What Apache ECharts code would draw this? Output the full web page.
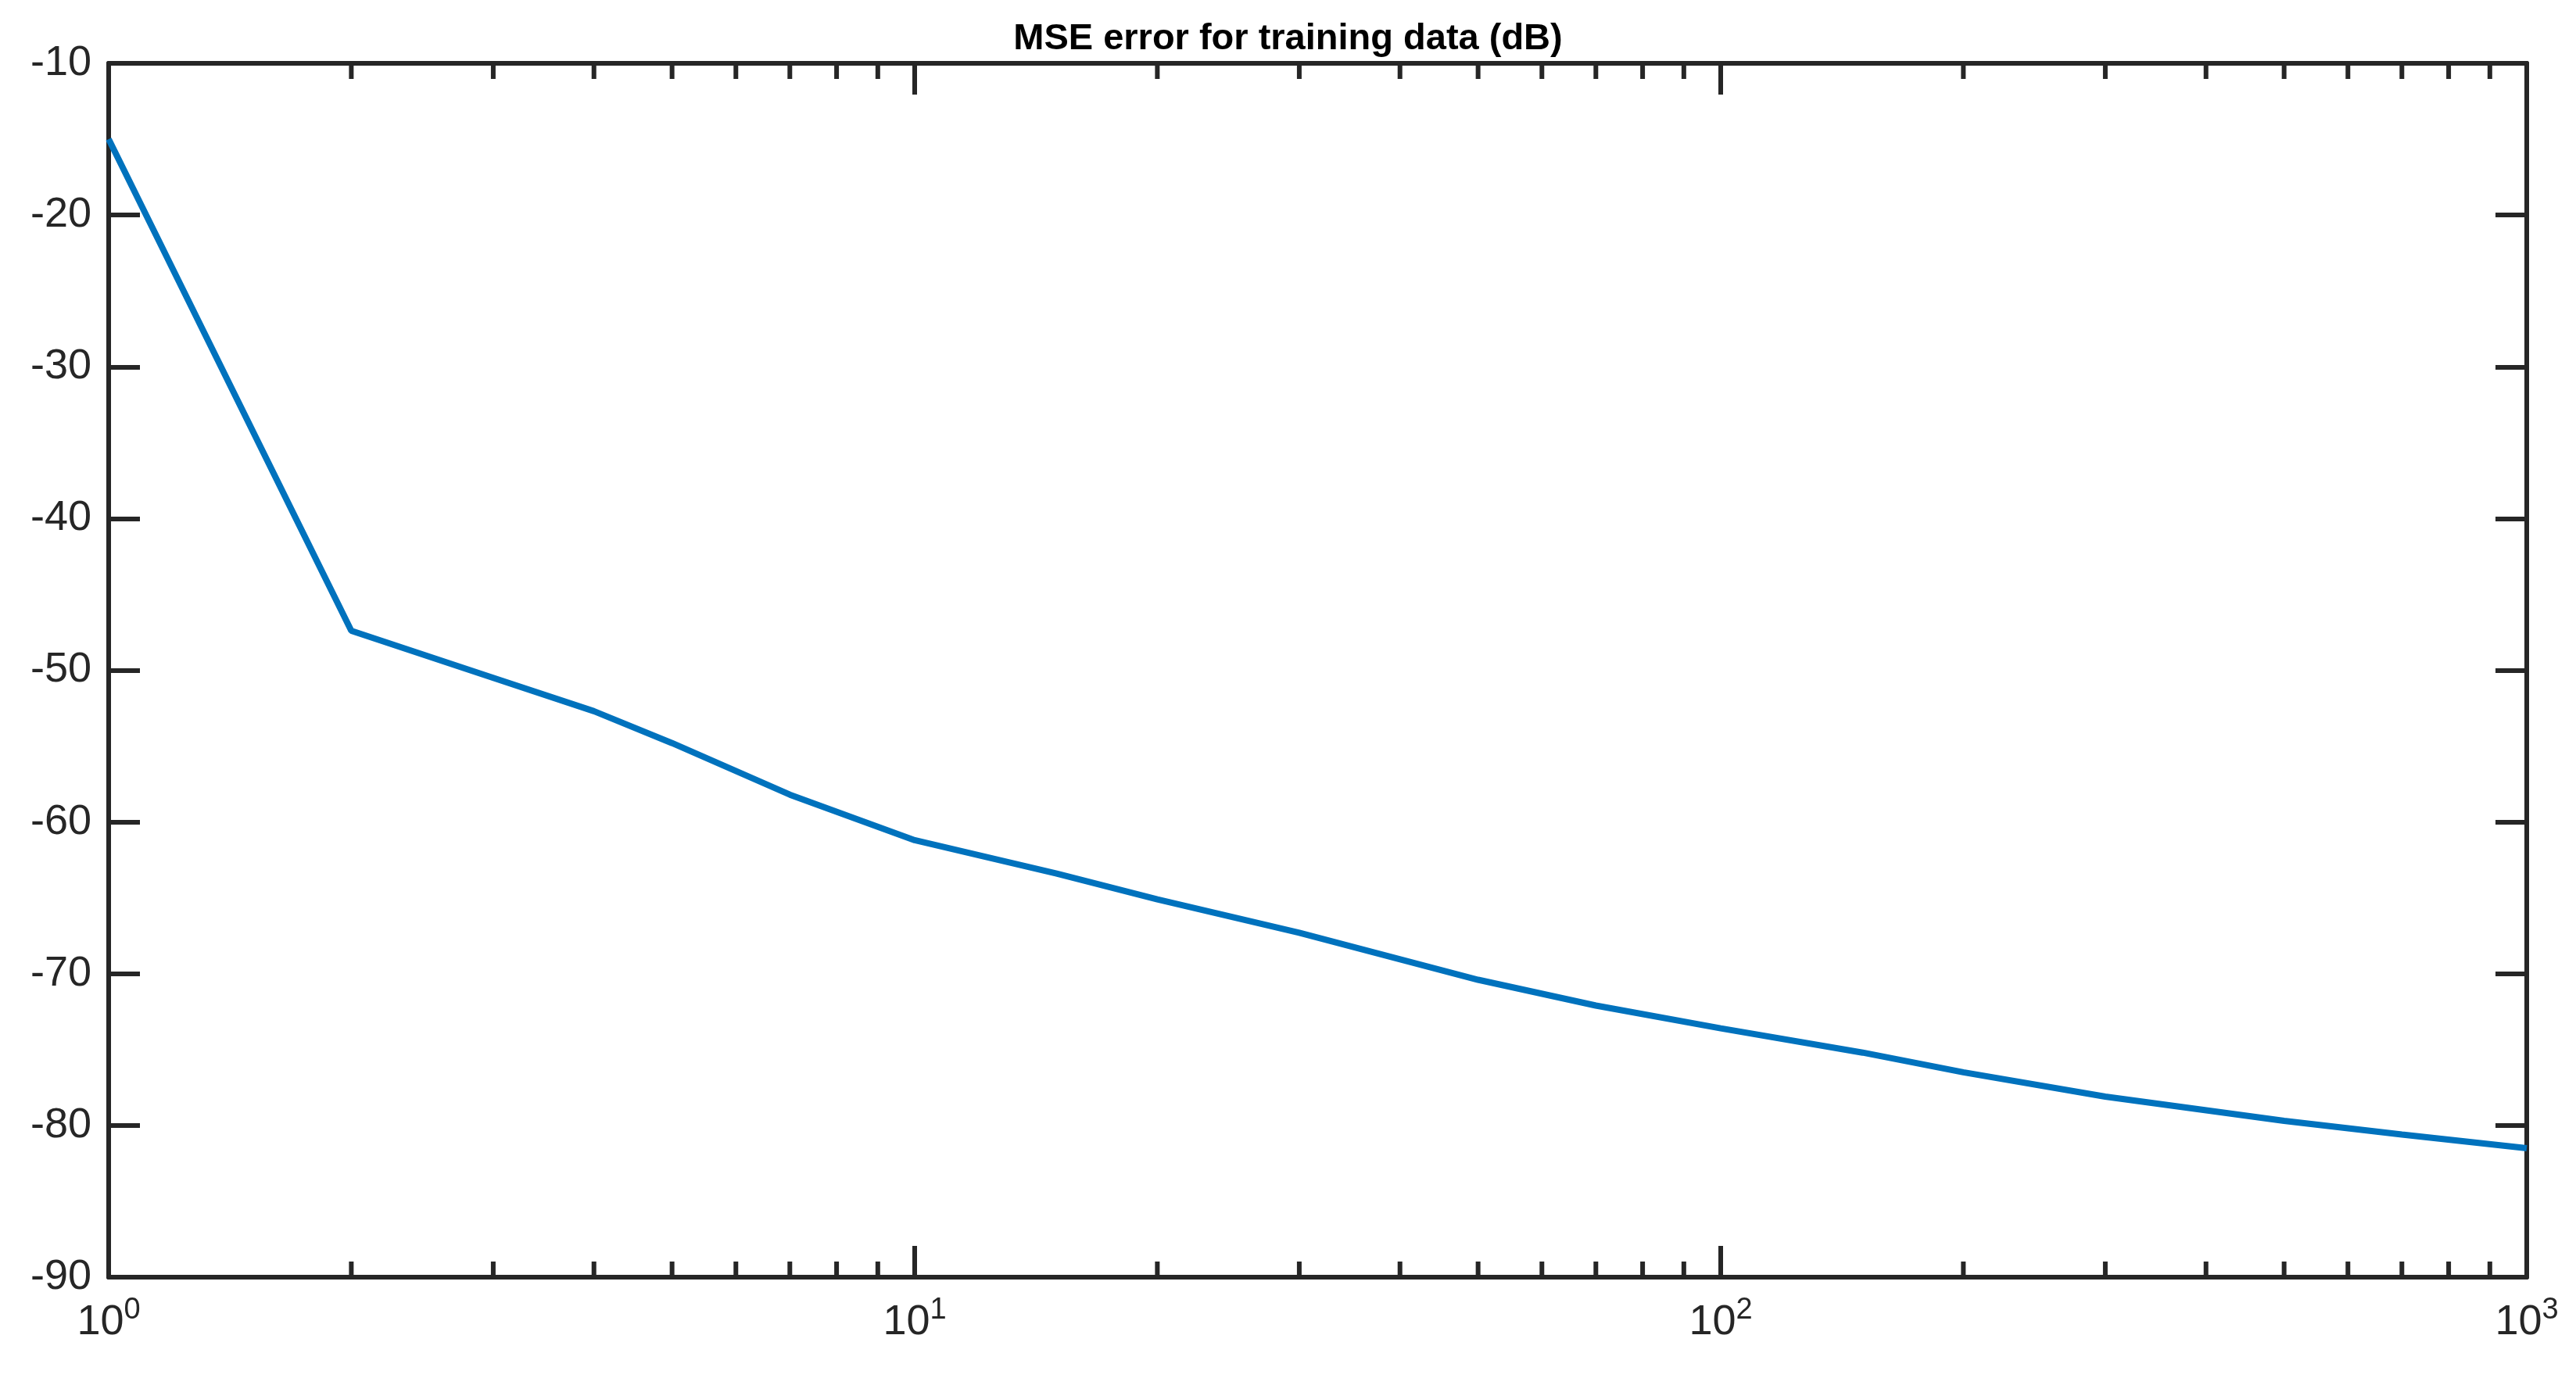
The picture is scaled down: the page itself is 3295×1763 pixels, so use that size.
<!DOCTYPE html>
<html><head><meta charset="utf-8">
<script src="https://cdn.jsdelivr.net/npm/echarts@6/dist/echarts.min.js"></script>
<style>html,body{margin:0;padding:0;background:#fff}#c{width:3295px;height:1763px}</style>
</head><body><div id="c"></div>
<script>
const xValues = [1, 2, 3, 4, 5, 7, 10, 15, 20, 30, 50, 70, 100, 150, 200, 300, 500, 700, 1000];
const mseDb = [-15.0, -47.4, -50.5, -52.7, -54.8, -58.2, -61.2, -63.4, -65.1, -67.3, -70.4, -72.1, -73.6, -75.2, -76.5, -78.1, -79.7, -80.6, -81.5];
const yTicks = [-90, -80, -70, -60, -50, -40, -30, -20, -10];
const minorTickX = [];
for (let e = 0; e < 3; e++) for (let m = 2; m <= 9; m++) minorTickX.push(m * Math.pow(10, e));

const font = 'Liberation Sans, Arial, sans-serif';
const axisCol = '#262626';
const chart = echarts.init(document.getElementById('c'), null, {renderer: 'canvas'});
const supFmt = v => { const e = Math.round(Math.log10(v)); return '{b|10}{s|' + e + '}'; };
const tick = {show: true, inside: true, length: 40, lineStyle: {color: axisCol, width: 6}};
const line = {show: true, lineStyle: {color: axisCol, width: 6}};
chart.setOption({
  animation: false,
  title: {text: 'MSE error for training data (dB)', left: 'center', top: 22,
    textStyle: {fontFamily: font, fontWeight: 'bold', fontSize: 47, color: '#000'}},
  grid: {left: 139, right: 63, top: 81, bottom: 129},
  xAxis: [
    {type: 'log', logBase: 10, min: 1, max: 1000, position: 'bottom',
     axisLine: line, axisTick: tick, splitLine: {show: false},
     axisLabel: {margin: 24, formatter: supFmt, rich: {
       b: {fontFamily: font, fontSize: 54, color: '#262626'},
       s: {fontFamily: font, fontSize: 38, color: '#262626', verticalAlign: 'top', padding: [0,0,30,0]}}}},
    {type: 'log', logBase: 10, min: 1, max: 1000, position: 'top',
     axisLine: line, axisTick: tick, axisLabel: {show: false}, splitLine: {show: false}}
  ],
  yAxis: [
    {type: 'value', min: -90, max: -10, interval: 10, position: 'left',
     axisLine: line, axisTick: tick, splitLine: {show: false},
     axisLabel: {margin: 22, fontFamily: font, fontSize: 54, color: '#262626'}},
    {type: 'value', min: -90, max: -10, interval: 10, position: 'right',
     axisLine: line, axisTick: tick, axisLabel: {show: false}, splitLine: {show: false}}
  ],
  series: [
    {type: 'line', data: xValues.map((x, i) => [x, mseDb[i]]), showSymbol: false,
     lineStyle: {color: '#0072BD', width: 8}, z: 5},
    {type: 'custom', data: minorTickX.map(x => [x]), silent: true, z: 4,
     renderItem: (params, api) => {
       const x = api.value(0);
       const b = api.coord([x, -90]);
       const t = api.coord([x, -10]);
       return {type: 'group', children: [
         {type: 'line', shape: {x1: b[0], y1: b[1], x2: b[0], y2: b[1] - 20}, style: {stroke: axisCol, lineWidth: 6}},
         {type: 'line', shape: {x1: t[0], y1: t[1], x2: t[0], y2: t[1] + 20}, style: {stroke: axisCol, lineWidth: 6}}
       ]};
     }}
  ]
});
</script></body></html>
